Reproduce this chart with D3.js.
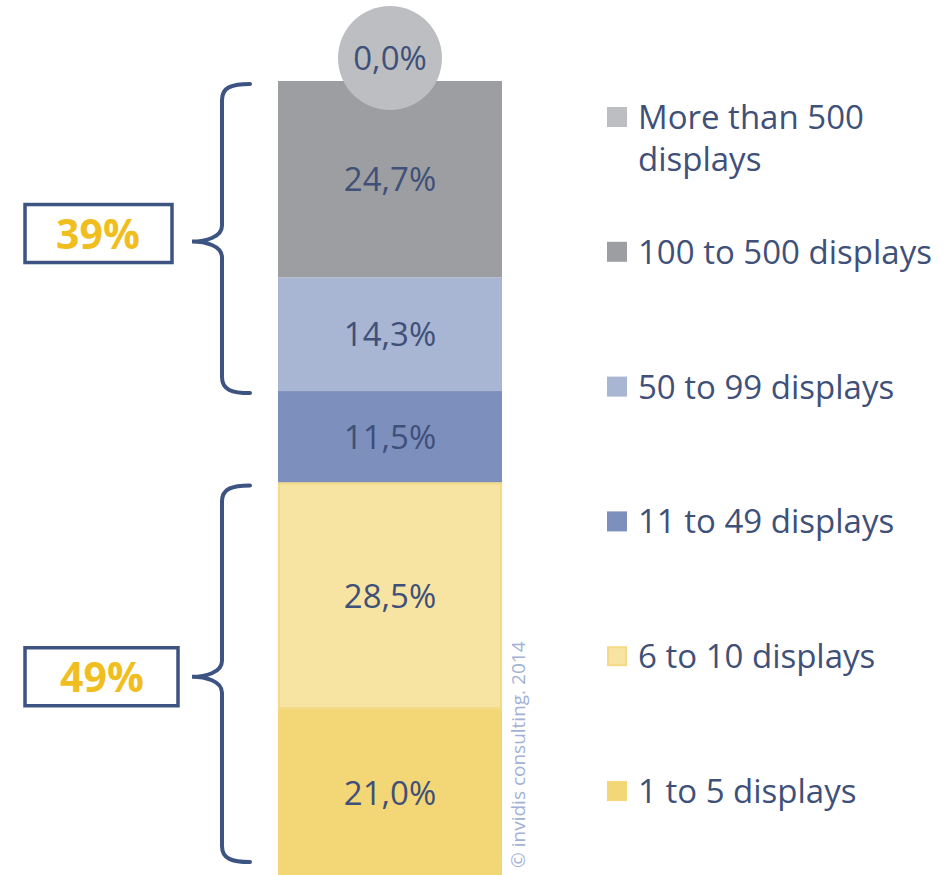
<!DOCTYPE html>
<html>
<head>
<meta charset="utf-8">
<script src="https://cdn.jsdelivr.net/npm/d3@7"></script>
<style>
  body { margin: 0; background: #fff; }
  text { font-family: "Open Sans", Lato, sans-serif; }
</style>
</head>
<body>
<div id="chart"></div>
<script>
// categories bottom -> top, shares in percent
const categories = ["1 to 5 displays", "6 to 10 displays", "11 to 49 displays",
                    "50 to 99 displays", "100 to 500 displays", "More than 500 displays"];
const shares = [21.0, 28.5, 11.5, 14.3, 24.7, 0.0];
const colors = ["#f3d675", "#f7e4a3", "#7c8fbd", "#a8b5d3", "#9d9ea2", "#bdbec2"];
// grouped brackets: first and last category index, and the label
const groupFrom = [0, 3];
const groupTo = [1, 4];
const groupLabels = ["49%", "39%"];
const credit = "© invidis consulting. 2014";

const width = 945, height = 875;
const textColor = "#3f5079";
const darkBlue = "#3d5382";

const svg = d3.select("#chart").append("svg")
    .attr("width", width)
    .attr("height", height);

// cumulative stacking
let acc = 0;
const stacked = shares.map((v, i) => {
  const d = {cat: categories[i], value: v, y0: acc, y1: acc + v, color: colors[i]};
  acc += v;
  return d;
});

const y = d3.scaleLinear().domain([0, 100]).range([876, 81]);
const x = d3.scaleBand().domain(["share"]).range([278, 502]).padding(0);

const segs = stacked.filter(d => d.value > 0);

svg.append("g").selectAll("rect")
  .data(segs)
  .join("rect")
    .attr("x", x("share"))
    .attr("width", x.bandwidth())
    .attr("y", d => y(d.y1))
    .attr("height", d => y(d.y0) - y(d.y1))
    .attr("fill", d => d.color);

// light yellow segment has a thin darker outline
const s6 = segs[1];
svg.append("rect")
    .attr("x", x("share") + 1)
    .attr("width", x.bandwidth() - 2)
    .attr("y", y(s6.y1) + 1)
    .attr("height", y(s6.y0) - y(s6.y1) - 2)
    .attr("fill", "none")
    .attr("stroke", "#f4da86")
    .attr("stroke-width", 2);

const fmt = v => d3.format(".1f")(v).replace(".", ",") + "%";

svg.append("g").selectAll("text")
  .data(segs)
  .join("text")
    .attr("x", x("share") + x.bandwidth() / 2)
    .attr("y", d => (y(d.y0) + y(d.y1)) / 2 + 12)
    .attr("text-anchor", "middle")
    .attr("font-size", 33)
    .attr("fill", textColor)
    .text(d => fmt(d.value));

// zero-share category as a circle on top of the bar
const zero = stacked.filter(d => d.value === 0);
const cx = x("share") + x.bandwidth() / 2;
svg.append("g").selectAll("circle")
  .data(zero)
  .join("circle")
    .attr("cx", cx)
    .attr("cy", y(100) - 23)
    .attr("r", 52)
    .attr("fill", d => d.color);
svg.append("g").selectAll("text")
  .data(zero)
  .join("text")
    .attr("x", cx)
    .attr("y", y(100) - 23 + 12)
    .attr("text-anchor", "middle")
    .attr("font-size", 33)
    .attr("fill", textColor)
    .text(d => fmt(d.value));

// braces + boxes
function brace(top, bot, tipY) {
  const xe = 250, xv = 222, xt = 192;
  return `M${xe},${top} C${232},${top} ${xv},${top + 3} ${xv},${top + 16}` +
    ` L${xv},${tipY - 16} C${xv},${tipY - 4} ${205},${tipY} ${xt},${tipY}` +
    ` C${205},${tipY} ${xv},${tipY + 4} ${xv},${tipY + 16}` +
    ` L${xv},${bot - 16} C${xv},${bot - 3} ${232},${bot} ${xe},${bot}`;
}

const groups = groupLabels.map((lab, i) => {
  const top = y(stacked[groupTo[i]].y1) + 3;
  const bot = Math.min(y(stacked[groupFrom[i]].y0) + 2, height - 13);
  return {label: lab, top, bot, tip: (top + bot) / 2 + 3};
});

svg.append("g").selectAll("path")
  .data(groups)
  .join("path")
    .attr("d", d => brace(d.top, d.bot, d.tip))
    .attr("fill", "none")
    .attr("stroke", darkBlue)
    .attr("stroke-width", 4)
    .attr("stroke-linecap", "round");

const boxes = svg.append("g").selectAll("g")
  .data(groups)
  .join("g")
    .attr("transform", (d, i) => `translate(25,${d.tip - 29 - (i === 1 ? 8 : 0)})`);
boxes.append("rect")
    .attr("width", (d, i) => i === 0 ? 153 : 147)
    .attr("height", 58)
    .attr("fill", "#fff")
    .attr("stroke", darkBlue)
    .attr("stroke-width", 3.5);
boxes.append("text")
    .attr("x", (d, i) => i === 0 ? 77 : 73)
    .attr("y", 44)
    .attr("text-anchor", "middle")
    .attr("font-size", 41)
    .attr("font-weight", "bold")
    .attr("fill", "#f0be1e")
    .text(d => d.label);

// legend, top -> bottom
const legendData = stacked.slice().reverse();
const ly = d3.scalePoint().domain(legendData.map(d => d.cat)).range([117, 791]);

const leg = svg.append("g").selectAll("g")
  .data(legendData)
  .join("g")
    .attr("transform", d => `translate(607,${ly(d.cat)})`);
leg.append("rect")
    .attr("x", d => d.cat === categories[1] ? 1 : 0)
    .attr("y", d => d.cat === categories[1] ? -9 : -10)
    .attr("width", d => d.cat === categories[1] ? 18 : 20)
    .attr("height", d => d.cat === categories[1] ? 18 : 20)
    .attr("fill", d => d.color)
    .attr("stroke", d => d.cat === categories[1] ? "#f4da86" : "none")
    .attr("stroke-width", 2);
leg.append("text")
    .attr("x", 31)
    .attr("y", 12)
    .attr("font-size", 33)
    .attr("fill", textColor)
    .each(function(d) {
      const t = d3.select(this);
      const words = d.cat === "More than 500 displays" ? ["More than 500", "displays"] : [d.cat];
      words.forEach((w, k) => t.append("tspan").attr("x", 31).attr("dy", k ? 42 : 0).text(w));
    });

// credit, rotated
svg.append("text")
    .attr("transform", `translate(525,868) rotate(-90)`)
    .attr("font-size", 19)
    .attr("fill", "#a2b1d6")
    .text(credit);
</script>
</body>
</html>
